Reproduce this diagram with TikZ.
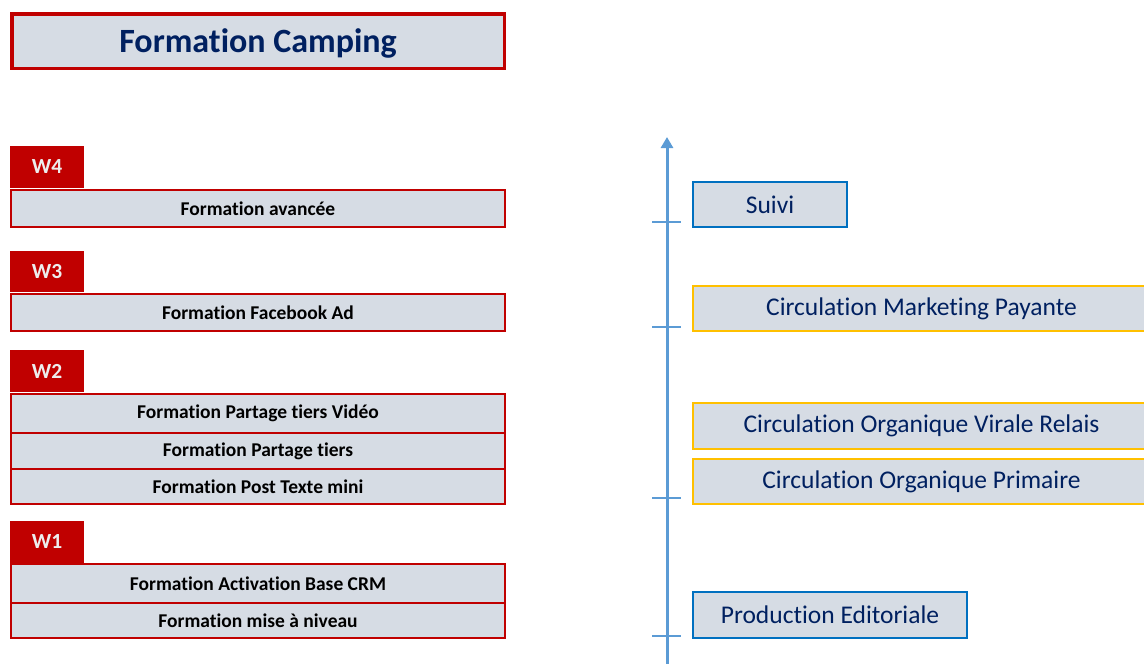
\documentclass[tikz,border=0pt]{standalone}
\usepackage{fontspec}
\setmainfont{Carlito}[Ligatures=NoCommon]
\usetikzlibrary{arrows.meta}
\definecolor{wred}{HTML}{C00000}
\definecolor{panel}{HTML}{D6DCE4}
\definecolor{navy}{HTML}{002060}
\definecolor{axisblue}{HTML}{5B9BD5}
\definecolor{boxblue}{HTML}{0070C0}
\definecolor{gold}{HTML}{FFC000}
\definecolor{tabtext}{HTML}{EDEDED}
\tikzset{
  titlebox/.style={draw=wred, line width=3.5pt, fill=panel, text=navy, inner sep=0pt,
    text depth=0pt, font=\bfseries\fontsize{34}{38}\selectfont,
    minimum width=492.5pt, minimum height=54.5pt},
  weektab/.style={fill=wred, draw=none, text=tabtext, inner sep=0pt,
    font=\bfseries\fontsize{21.5}{24}\selectfont, minimum width=74pt},
  course/.style={draw=wred, line width=2pt, fill=panel, text=black, inner sep=0pt,
    font=\bfseries\fontsize{19.5}{22}\selectfont, minimum width=494pt},
  phase/.style={line width=2pt, fill=panel, text=navy, inner sep=0pt,
    font=\fontsize{25.5}{30}\selectfont, minimum height=45pt},
  bluephase/.style={phase, draw=boxblue},
  goldphase/.style={phase, draw=gold},
  timeaxis/.style={draw=axisblue, line width=3pt, -{Triangle[width=12pt,length=11pt]}},
  tick/.style={draw=axisblue, line width=1.2pt}
}
\begin{document}
\begin{tikzpicture}[x=1pt,y=-1pt]
\useasboundingbox (0,0) rectangle (1144,664);
\clip (0,0) rectangle (1144,664);

% heading
\node[titlebox] (title) at (258,41) {Formation Camping};

% week 4
\node[weektab, minimum height=42pt] (w4) at (47,167) {W4};
\node[course, minimum height=37pt] (c41) at (258,208.5) {Formation avancée};

% week 3
\node[weektab, minimum height=41pt] (w3) at (47,271.5) {W3};
\node[course, minimum height=37pt] (c31) at (258,312.5) {Formation Facebook Ad};

% week 2
\node[weektab, minimum height=42pt] (w2) at (47,371) {W2};
\node[course, minimum height=39pt] (c21) at (258,413.5) {Formation Partage tiers Vidéo};
\node[course, minimum height=36pt] (c22) at (258,451) {Formation Partage tiers};
\node[course, minimum height=35pt] (c23) at (258,486.5) {Formation Post Texte mini};

% week 1
\node[weektab, minimum height=42pt] (w1) at (47,542) {W1};
\node[course, minimum height=39pt] (c11) at (258,583.5) {Formation Activation Base CRM};
\node[course, minimum height=35pt] (c12) at (258,620.5) {Formation mise à niveau};

% time axis with ticks
\coordinate (axbot) at (667,668);
\coordinate (axtop) at (667,137);
\draw[timeaxis] (axbot) -- (axtop);
\foreach \y/\n in {222/t1, 327/t2, 498/t3, 636/t4} {
  \coordinate (\n l) at (652,\y);
  \coordinate (\n r) at (681,\y);
  \draw[tick] (\n l) -- (\n r);
}

% phases
\node[bluephase, minimum width=154pt] (suivi) at (770,204.5) {Suivi};
\node[goldphase, minimum width=457pt] (payante) at (921.5,308.5) {Circulation Marketing Payante};
\node[goldphase, minimum width=457pt, minimum height=46pt] (virale) at (921.5,426) {Circulation Organique Virale Relais};
\node[goldphase, minimum width=457pt] (primaire) at (921.5,481.5) {Circulation Organique Primaire};
\node[bluephase, minimum width=274pt, minimum height=46pt] (prod) at (830,615) {Production Editoriale};
\end{tikzpicture}
\end{document}
